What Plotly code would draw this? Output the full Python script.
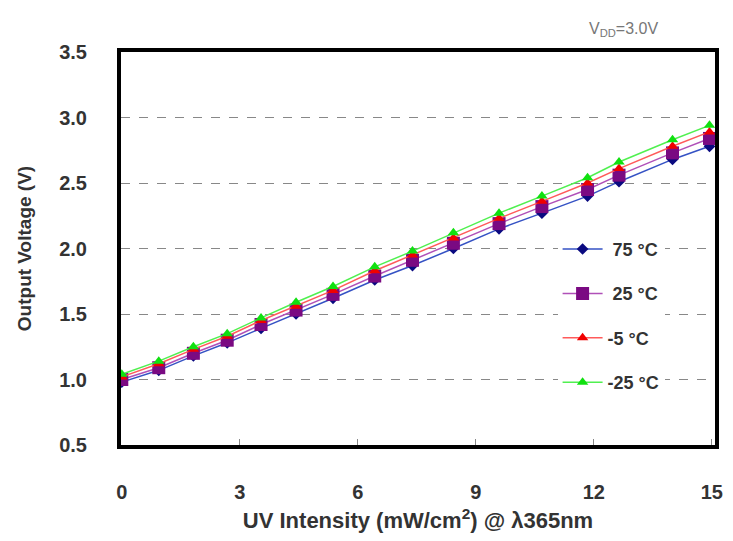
import plotly.graph_objects as go

uv_intensity = [0, 0.94, 1.82, 2.68, 3.54, 4.43, 5.37, 6.43, 7.39, 8.43, 9.59, 10.68, 11.84, 12.64, 14.0, 14.94]
v_75c = [0.98, 1.07, 1.18, 1.28, 1.39, 1.50, 1.62, 1.76, 1.87, 2.00, 2.15, 2.27, 2.40, 2.51, 2.68, 2.78]
v_25c = [1.00, 1.09, 1.20, 1.30, 1.42, 1.53, 1.65, 1.79, 1.91, 2.04, 2.19, 2.32, 2.45, 2.56, 2.73, 2.84]
v_m5c = [1.02, 1.12, 1.23, 1.33, 1.45, 1.56, 1.68, 1.83, 1.95, 2.08, 2.23, 2.36, 2.50, 2.61, 2.78, 2.89]
v_m25c = [1.04, 1.14, 1.25, 1.35, 1.47, 1.59, 1.71, 1.86, 1.98, 2.12, 2.27, 2.40, 2.54, 2.66, 2.83, 2.94]

series_names = ["\u00a075 °C", "\u00a025 °C", "-5 °C", "-25 °C"]
x_ticks = [0, 3, 6, 9, 12, 15]
y_ticks = [0.5, 1.0, 1.5, 2.0, 2.5, 3.0, 3.5]

styles = [
    dict(line="#3552c4", marker="#0a0a80", symbol="diamond", size=9),
    dict(line="#b050b8", marker="#7a0a82", symbol="square", size=13),
    dict(line="#ff5a5a", marker="#f00000", symbol="triangle-up", size=10),
    dict(line="#50f050", marker="#10e010", symbol="triangle-up", size=10),
]

fig = go.Figure()
for name, ys, st in zip(series_names, [v_75c, v_25c, v_m5c, v_m25c], styles):
    fig.add_trace(go.Scatter(
        x=uv_intensity, y=ys, name=f"<b>{name}</b>", mode="lines+markers",
        legendgroup=name,
        line=dict(color=st["line"], width=1.5),
        marker=dict(color=st["marker"], symbol=st["symbol"], size=st["size"], line=dict(width=0)),
    ))

fig.update_layout(
    width=733, height=541,
    margin=dict(l=113, r=26, t=44, b=104),
    paper_bgcolor="white", plot_bgcolor="white",
    font=dict(family="Liberation Sans, Arial, sans-serif", color="#333333"),
    showlegend=True,
    legend=dict(
        x=0.735, y=0.545, xanchor="left", yanchor="top",
        bgcolor="white", borderwidth=0,
        font=dict(size=18, color="#333333", family="Liberation Sans, Arial, sans-serif"),
        tracegroupgap=18, itemwidth=40,
    ),
    annotations=[dict(
        text="V<sub>DD</sub>=3.0V", x=0.846, y=1.056, xref="paper", yref="paper",
        showarrow=False, xanchor="center", yanchor="middle",
        font=dict(size=16, color="#777777"),
    )],
)

fig.update_xaxes(
    range=[-0.02, 15.08], tickvals=x_ticks, ticktext=[f"<b>{v}</b>" for v in x_ticks],
    showgrid=False, zeroline=False,
    showline=True, linecolor="black", linewidth=4, mirror=True,
    ticks="inside", ticklen=6, tickcolor="#888888", tickwidth=1,
    ticklabelstandoff=26,
    tickfont=dict(size=20, color="#333333"),
    title=dict(text="<b>UV Intensity (mW/cm<sup>2</sup>) @ λ365nm</b>", font=dict(size=22, color="#333333"), standoff=12),
)
fig.update_yaxes(
    range=[0.5, 3.5], tickvals=y_ticks, ticktext=[f"<b>{v:.1f}</b>" for v in y_ticks],
    showgrid=True, gridcolor="#888888", griddash="dash", gridwidth=1.2,
    zeroline=False,
    showline=True, linecolor="black", linewidth=4, mirror=True,
    ticks="", ticklabelstandoff=26,
    tickfont=dict(size=20, color="#333333"),
    title=dict(text="<b>Output Voltage (V)</b>", font=dict(size=19, color="#333333"), standoff=24),
)

fig.write_html("out.html")
